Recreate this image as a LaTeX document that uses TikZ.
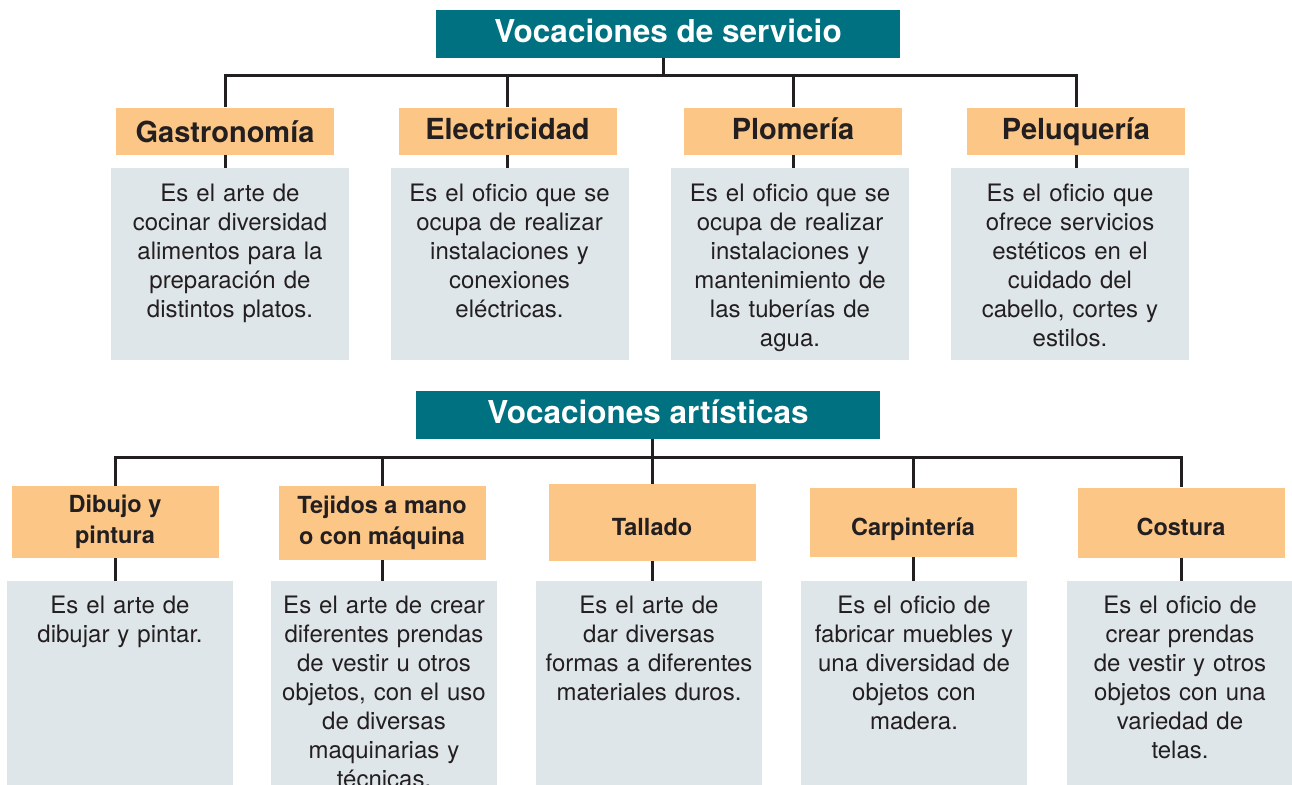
\documentclass[tikz,border=0pt]{standalone}
\usepackage{fontspec}
\setmainfont{TeX Gyre Heros}
\usepackage{xcolor}
\usepackage{tikz}
\usetikzlibrary{positioning,calc}
\definecolor{vcteal}{HTML}{007180}
\definecolor{vcorange}{HTML}{FBC686}
\definecolor{vcgrey}{HTML}{DFE6EA}
\definecolor{vcink}{HTML}{231F20}
\tikzset{
  title/.style={fill=vcteal,text=white,inner sep=0pt,minimum width=464pt,minimum height=48pt,text height=23pt,text depth=6pt,font=\fontsize{31.5}{36}\selectfont\bfseries},
  head/.style={fill=vcorange,text=vcink,inner sep=0pt,minimum width=218pt,minimum height=47pt,text height=21pt,text depth=5pt,font=\fontsize{29}{34}\selectfont\bfseries},
  headart/.style={fill=vcorange,text=vcink,inner sep=0pt,minimum width=207pt,minimum height=72pt,align=center,font=\fontsize{23.5}{31}\selectfont\bfseries},
  headone/.style={headart,text height=27pt,text depth=2pt},
  desc/.style={fill=vcgrey,text=vcink,anchor=north,inner sep=0pt,text width=238pt,align=center,text height=33pt,text depth=159pt,font=\fontsize{24}{29}\selectfont},
  descart/.style={desc,text width=226pt,text height=32pt,text depth=220pt},
  lnk/.style={line width=3pt,draw=vcink},
}
\begin{document}
\begin{tikzpicture}[x=1pt,y=-1pt]
  \useasboundingbox (0,0) rectangle (1292,784);
  \node[title] (svc) at (668,34) {Vocaciones de servicio};
  \node[head,text height=23pt,text depth=0pt] (gastro) at (225,131) {Gastronomía};
  \node[head] (elec) at (507.5,131) {Electricidad};
  \node[head] (plom) at (793,131) {Plomería};
  \node[head] (pelu) at (1076,131) {Peluquería};
  \node[desc] (dgastro) at (230,168) {Es el arte de\\cocinar diversidad\\alimentos para la\\preparación de\\distintos platos.};
  \node[desc] (delec) at (509.5,168) {Es el oficio que se\\ocupa de realizar\\instalaciones y\\conexiones\\eléctricas.};
  \node[desc] (dplom) at (790,168) {Es el oficio que se\\ocupa de realizar\\instalaciones y\\mantenimiento de\\las tuberías de\\agua.};
  \node[desc] (dpelu) at (1070,168) {Es el oficio que\\ofrece servicios\\estéticos en el\\cuidado del\\cabello, cortes y\\estilos.};
  \coordinate (busS) at (663,75);
  \draw[lnk] (svc.south -| busS) -- (busS);
  \draw[lnk] (gastro.north) |- (busS) -| (pelu.north);
  \foreach \n in {elec,plom} \draw[lnk] (\n.north) -- (\n.north |- busS);
  \foreach \n in {gastro,elec,plom,pelu} \draw[lnk] (\n.south) -- (\n.south |- d\n.north);

  \node[title] (art) at (648,415) {Vocaciones artísticas};
  \node[headart] (dibujo) at (115,522) {Dibujo y\\pintura};
  \node[headart,minimum height=74pt] (tejidos) at (382,523) {Tejidos a mano\\o con máquina};
  \node[headone,minimum height=77pt] (tallado) at (652,522.5) {Tallado};
  \node[headone,minimum height=69pt] (carp) at (913,522.5) {Carpintería};
  \node[headone,minimum height=70pt] (costura) at (1181,522.5) {Costura};
  \node[descart] (ddibujo) at (120,581) {Es el arte de\\dibujar y pintar.};
  \node[descart] (dtejidos) at (384,581) {Es el arte de crear\\diferentes prendas\\de vestir u otros\\objetos, con el uso\\de diversas\\maquinarias y\\técnicas.};
  \node[descart] (dtallado) at (649,581) {Es el arte de\\dar diversas\\formas a diferentes\\materiales duros.};
  \node[descart] (dcarp) at (914,581) {Es el oficio de\\fabricar muebles y\\una diversidad de\\objetos con\\madera.};
  \node[descart] (dcostura) at (1180,581) {Es el oficio de\\crear prendas\\de vestir y otros\\objetos con una\\variedad de\\telas.};
  \coordinate (busA) at (652,457);
  \draw[lnk] (art.south -| busA) -- (tallado.north);
  \draw[lnk] (dibujo.north) |- (busA) -| (costura.north);
  \foreach \n in {tejidos,carp} \draw[lnk] (\n.north) -- (\n.north |- busA);
  \foreach \n in {dibujo,tejidos,tallado,carp,costura} \draw[lnk] (\n.south) -- (\n.south |- d\n.north);
\end{tikzpicture}
\end{document}
